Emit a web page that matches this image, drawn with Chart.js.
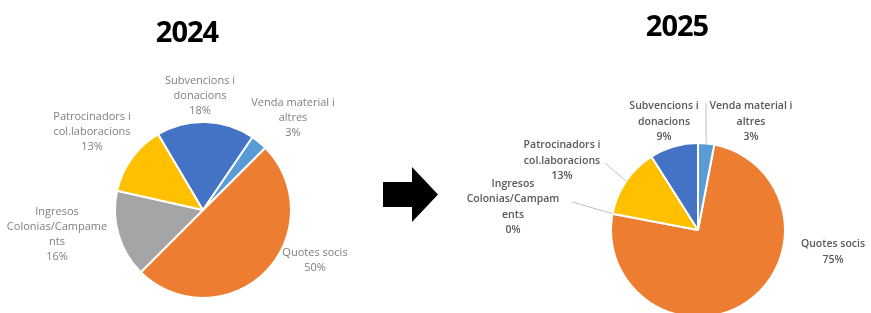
<!DOCTYPE html>
<html>
<head>
<meta charset="utf-8">
<script src="https://cdn.jsdelivr.net/npm/chart.js@4/dist/chart.umd.min.js"></script>
<style>
  html, body { margin: 0; padding: 0; background: #fff; }
  #wrap { position: relative; width: 871px; height: 313px; overflow: hidden; }
  canvas { position: absolute; top: 0; }
  .title { position: absolute; font: 700 29px "Open Sans", sans-serif; color: #000; letter-spacing: -1px; transform: translateX(-50%); }
  svg { position: absolute; left: 0; top: 0; }
</style>
</head>
<body>
<div id="wrap">
  <canvas id="pie2024" width="440" height="313" style="left:0;width:440px;height:313px"></canvas>
  <canvas id="pie2025" width="431" height="313" style="left:440px;width:431px;height:313px"></canvas>
  <div class="title" style="left:187px;top:11px">2024</div>
  <div class="title" style="left:677px;top:5px">2025</div>
  <svg width="871" height="313"><polygon points="383,182 412,182 412,167 438,194.5 412,222 412,207 383,207" fill="#000"/></svg>
</div>
<script>
"use strict";

// same order in both pies, drawn clockwise
const colors = ["#ED7D31", "#A5A5A5", "#FFC000", "#4472C4", "#5B9BD5"];

const labels2024 = [
  ["Quotes socis"],
  ["Ingresos", "Colonias/Campame", "nts"],
  ["Patrocinadors i", "col.laboracions"],
  ["Subvencions i", "donacions"],
  ["Venda material i", "altres"],
];
const values2024 = [50, 16, 13, 18, 3];

const labels2025 = [
  ["Quotes socis"],
  ["Ingresos", "Colonias/Campam", "ents"],
  ["Patrocinadors i", "col.laboracions"],
  ["Subvencions i", "donacions"],
  ["Venda material i", "altres"],
];
const values2025 = [75, 0, 13, 9, 3];

// label block centres and leader starts, relative to pie centre
const place2024 = [[112, 50], [-146, 24], [-111, -78], [-3, -114], [90, -92]];
const lead2024 = [null, null, null, null, null];
const place2025 = [[135, 22], [-185, -23], [-136, -69], [-34, -108], [53, -108]];
const lead2025 = [null, [-126, -28], [-93, -67], null, [8, -127]];

const pieLabels = {
  id: "pieLabels",
  afterDatasetsDraw(chart, args, opts) {
    const ctx = chart.ctx;
    const meta = chart.getDatasetMeta(0);
    const vals = chart.data.datasets[0].data;
    ctx.save();
    ctx.textAlign = "center";
    ctx.textBaseline = "middle";
    ctx.font = opts.font;
    ctx.fillStyle = opts.color;
    meta.data.forEach((arc, i) => {
      const lines = chart.data.labels[i].concat([`${vals[i]}%`]);
      const [dx, dy] = opts.place[i];
      const cx = arc.x + dx, cy = arc.y + dy;
      const top = cy - (lines.length - 1) * opts.lineHeight / 2;
      lines.forEach((t, k) => ctx.fillText(t, cx, top + k * opts.lineHeight));
      const lead = opts.lead[i];
      if (lead) {
        const mid = (arc.startAngle + arc.endAngle) / 2;
        ctx.beginPath();
        ctx.strokeStyle = "#BFBFBF";
        ctx.lineWidth = 1;
        ctx.moveTo(arc.x + lead[0], arc.y + lead[1]);
        ctx.lineTo(arc.x + Math.cos(mid) * arc.outerRadius, arc.y + Math.sin(mid) * arc.outerRadius);
        ctx.stroke();
      }
    });
    ctx.restore();
  },
};

function makePie(id, labels, values, rotation, radius, padding, labelOpts) {
  return new Chart(document.getElementById(id), {
    type: "pie",
    data: {
      labels,
      datasets: [{ data: values, backgroundColor: colors, borderColor: "#fff", borderWidth: 2 }],
    },
    options: {
      responsive: false,
      animation: false,
      rotation,
      radius,
      layout: { padding },
      events: [],
      plugins: { legend: { display: false }, tooltip: { enabled: false }, pieLabels: labelOpts },
    },
    plugins: [pieLabels],
  });
}

makePie("pie2024", labels2024, values2024, 45, 88,
  { left: 115, right: 149, top: 122, bottom: 15 },
  { place: place2024, lead: lead2024, font: '11px "Open Sans", sans-serif', color: "#7F7F7F", lineHeight: 15 });

makePie("pie2025", labels2025, values2025, 10.8, 87,
  { left: 175, right: 90, top: 147, bottom: 0 },
  { place: place2025, lead: lead2025, font: '600 10.5px "Open Sans", sans-serif', color: "#595959", lineHeight: 15.5 });
</script>
</body>
</html>
